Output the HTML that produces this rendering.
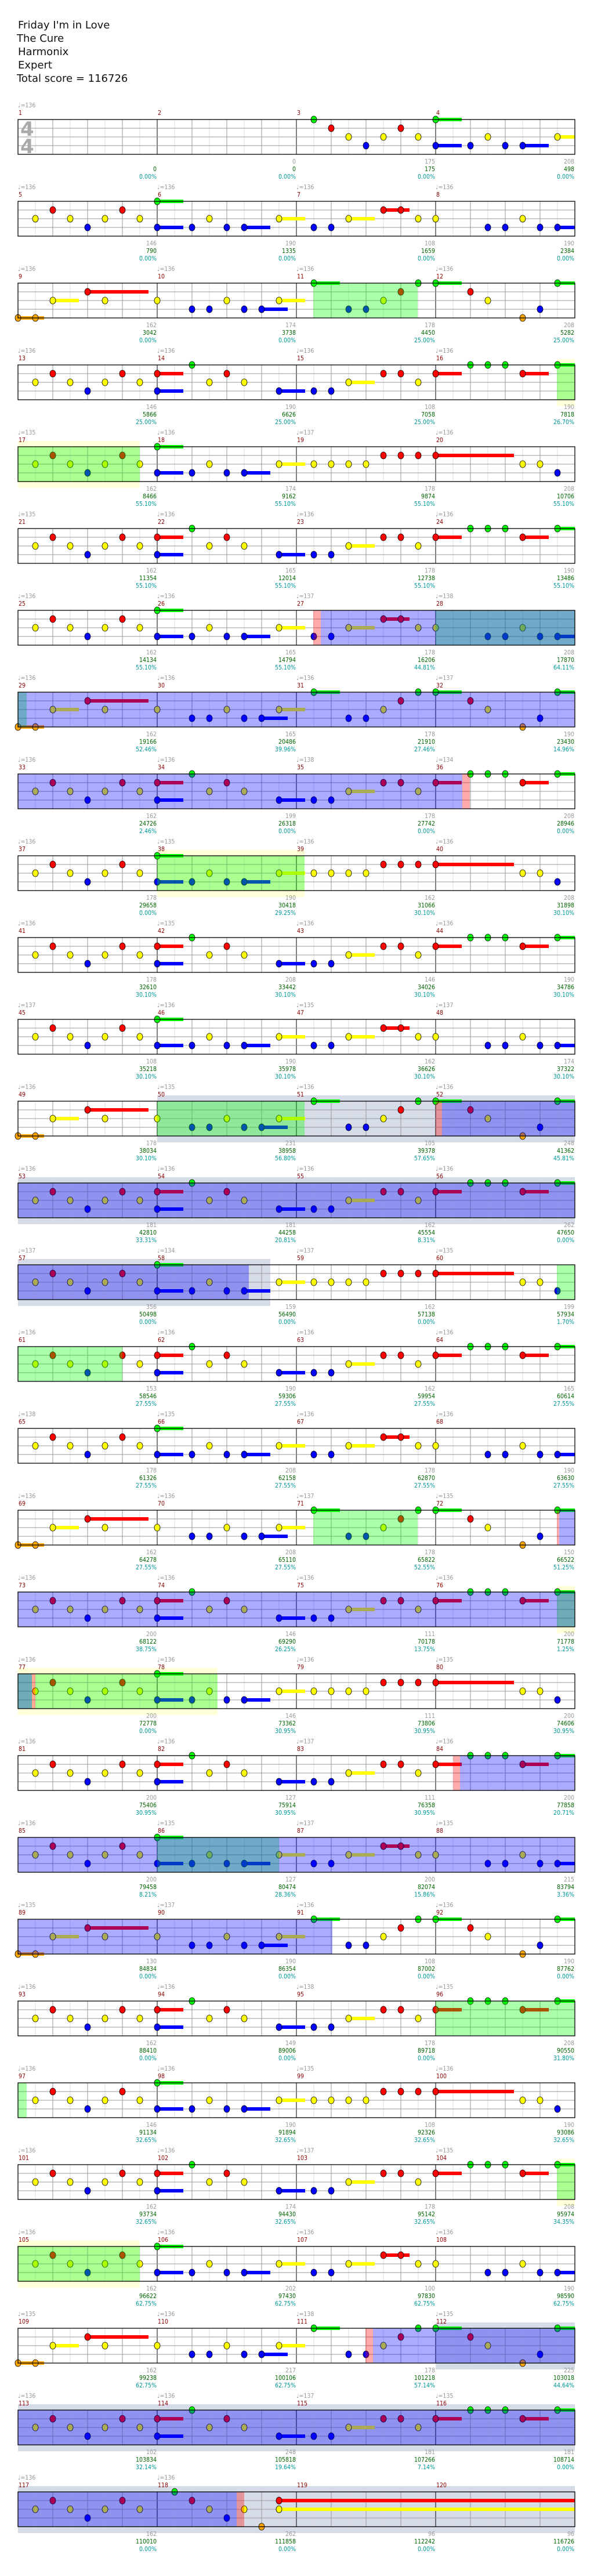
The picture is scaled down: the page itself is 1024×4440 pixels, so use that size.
<!DOCTYPE html>
<html><head><meta charset="utf-8">
<style>
html,body{margin:0;padding:0;background:#fff;}
body{width:1024px;height:4435px;overflow:hidden;}
</style></head>
<body>
<svg id="s" xmlns="http://www.w3.org/2000/svg" width="1024" height="4435" viewBox="0 0 1024 4435" font-family="'DejaVu Sans Condensed','DejaVu Sans',sans-serif">
<g style="font-family:'DejaVu Sans','Liberation Sans',sans-serif" font-size="18" fill="#111">
<text x="31" y="49">Friday I'm in Love</text>
<text x="29" y="72">The Cure</text>
<text x="31" y="95">Harmonix</text>
<text x="31" y="118">Expert</text>
<text x="29" y="141">Total score = 116726</text>
</g>
</svg>
<script>
(function(){
var svg=document.getElementById('s');
var out=[];
var X0=31,MW=240,TOP=206,PITCH=141;
var col={g:'#00ff00',r:'#ff0000',y:'#ffff00',b:'#0000ff',o:'#ffa500'};
var lane={g:0,r:1,y:2,b:3,o:4};
var data={
1:['','0','0.00%'],2:['0','0','0.00%'],3:['175','175','0.00%'],4:['208','498','0.00%'],
5:['146','790','0.00%'],6:['190','1335','0.00%'],7:['108','1659','0.00%'],8:['190','2384','0.00%'],
9:['162','3042','0.00%'],10:['174','3738','0.00%'],11:['178','4450','25.00%'],12:['208','5282','25.00%'],
13:['146','5866','25.00%'],14:['190','6626','25.00%'],15:['108','7058','25.00%'],16:['190','7818','26.70%'],
17:['162','8466','55.10%'],18:['174','9162','55.10%'],19:['178','9874','55.10%'],20:['208','10706','55.10%'],
21:['162','11354','55.10%'],22:['165','12014','55.10%'],23:['178','12738','55.10%'],24:['190','13486','55.10%'],
25:['162','14134','55.10%'],26:['165','14794','55.10%'],27:['178','16206','44.81%'],28:['208','17870','64.11%'],
29:['162','19166','52.46%'],30:['165','20486','39.96%'],31:['178','21910','27.46%'],32:['190','23430','14.96%'],
33:['162','24726','2.46%'],34:['199','26318','0.00%'],35:['178','27742','0.00%'],36:['208','28946','0.00%'],
37:['178','29658','0.00%'],38:['190','30418','29.25%'],39:['162','31066','30.10%'],40:['208','31898','30.10%'],
41:['178','32610','30.10%'],42:['208','33442','30.10%'],43:['146','34026','30.10%'],44:['190','34786','30.10%'],
45:['108','35218','30.10%'],46:['190','35978','30.10%'],47:['162','36626','30.10%'],48:['174','37322','30.10%'],
49:['178','38034','30.10%'],50:['231','38958','56.80%'],51:['105','39378','57.65%'],52:['248','41362','45.81%'],
53:['181','42810','33.31%'],54:['181','44258','20.81%'],55:['162','45554','8.31%'],56:['262','47650','0.00%'],
57:['356','50498','0.00%'],58:['159','56490','0.00%'],59:['162','57138','0.00%'],60:['199','57934','1.70%'],
61:['153','58546','27.55%'],62:['190','59306','27.55%'],63:['162','59954','27.55%'],64:['165','60614','27.55%'],
65:['178','61326','27.55%'],66:['208','62158','27.55%'],67:['178','62870','27.55%'],68:['190','63630','27.55%'],
69:['162','64278','27.55%'],70:['208','65110','27.55%'],71:['178','65822','52.55%'],72:['150','66522','51.25%'],
73:['200','68122','38.75%'],74:['146','69290','26.25%'],75:['111','70178','13.75%'],76:['200','71778','1.25%'],
77:['200','72778','0.00%'],78:['146','73362','30.95%'],79:['111','73806','30.95%'],80:['200','74606','30.95%'],
81:['200','75406','30.95%'],82:['127','75914','30.95%'],83:['111','76358','30.95%'],84:['200','77858','20.71%'],
85:['200','79458','8.21%'],86:['127','80474','28.36%'],87:['200','82074','15.86%'],88:['215','83794','3.36%'],
89:['130','84834','0.00%'],90:['190','86354','0.00%'],91:['108','87002','0.00%'],92:['190','87762','0.00%'],
93:['162','88410','0.00%'],94:['149','89006','0.00%'],95:['178','89718','0.00%'],96:['208','90550','31.80%'],
97:['146','91134','32.65%'],98:['190','91894','32.65%'],99:['108','92326','32.65%'],100:['190','93086','32.65%'],
101:['162','93734','32.65%'],102:['174','94430','32.65%'],103:['178','95142','32.65%'],104:['208','95974','34.35%'],
105:['162','96622','62.75%'],106:['202','97430','62.75%'],107:['100','97830','62.75%'],108:['190','98590','62.75%'],
109:['162','99238','62.75%'],110:['217','100106','62.75%'],111:['178','101218','57.14%'],112:['225','103018','44.64%'],
113:['102','103834','32.14%'],114:['248','105818','19.64%'],115:['181','107266','7.14%'],116:['181','108714','0.00%'],
117:['162','110010','0.00%'],118:['262','111858','0.00%'],119:['96','112242','0.00%'],120:['96','116726','0.00%']
};
var tempos={2:135,17:135,19:137,21:135,27:137,28:138,31:136,32:137,34:136,35:138,36:134,38:135,41:136,42:135,45:137,47:135,48:137,50:135,57:137,58:134,59:137,60:135,65:138,66:135,71:137,72:135,80:135,83:137,86:135,87:137,88:135,89:135,90:137,95:138,96:135,99:135,103:137,104:135,109:135,111:138,112:135,115:137,116:135};
var pats=[
"30b 60b 90y45 150r 180r 210y",
"0r45 60g 90g 120g 150r45 210g45",
"30y 60r 90y 120b 150y 180r 210y",
"0g45 0b45 60b 90y 120b 150b45 210y45",
"30b 60b 90y45 150r45 180r 210y",
"0y 90b 120b 150y 180b 210b45",
"0o45 30o 60y45 120r105 150y",
"0y 60b 90b 120y 150b 180b45 210y45",
"30g45 90b 120b 150y 180r 210g",
"0g45 60r 90y 150o 180b 210g45",
"30y 60r 90y 120b 150y 180r 210y",
"0r45 0b45 60g 90y 120r 150y 210b45",
"30y 60y 90y 120y 150r 180r 210r",
"0r135 150y 180y 210b"
];
var order=[0,1,2,3,4,5,6,7,8,9,10,11,0,1,2,3,12,13,10,11];
var special={3:"30g 60r 90y 120b 150y 180r 210y",4:"0g45 0b45 60b 90y 120b 150b45 210y45"};
var hl={
2:[['G',540,720]],
3:[['Y',960,991],['G',960,991]],
4:[['Y',31,241],['G',31,241]],
6:[['P',540,553],['B',553,751],['T',751,991]],
7:[['T',31,46],['B',46,991]],
8:[['B',31,797],['P',797,810]],
9:[['Y',271,525],['G',271,525]],
12:[['S',271,991],['G',271,525],['P',751,762],['B',762,991]],
13:[['S',31,991],['B',31,991]],
14:[['S',31,466],['B',31,429],['G',960,991]],
15:[['G',31,211]],
17:[['G',540,720],['P',960,964],['B',964,991]],
18:[['B',31,960],['Y',960,991],['T',960,991]],
19:[['Y',31,375],['T',31,55],['P',55,61],['G',61,375]],
20:[['P',781,793],['B',793,991]],
21:[['B',31,271],['T',271,481],['B',481,991]],
22:[['B',31,573]],
23:[['G',751,991]],
24:[['G',31,46]],
25:[['Y',960,991],['G',960,991]],
26:[['Y',31,241],['G',31,241]],
27:[['S',751,991],['P',630,643],['B',643,991]],
28:[['S',31,991],['B',31,991]],
29:[['S',31,991],['B',31,408],['P',408,421]]
};
var ov={B:'rgba(0,0,255,0.33)',G:'rgba(0,255,0,0.33)',T:'rgba(0,103,157,0.56)',P:'rgba(255,0,0,0.33)'};
for(var r=0;r<30;r++){
  var t=TOP+PITCH*r;
  var h=hl[r]||[];
  h.forEach(function(e){
    if(e[0]=='S') out.push('<rect x="'+e[1]+'" y="'+(t-10)+'" width="'+(e[2]-e[1])+'" height="81" fill="#d5dce8"/>');
    if(e[0]=='Y') out.push('<rect x="'+e[1]+'" y="'+(t-10)+'" width="'+(e[2]-e[1])+'" height="81" fill="#ffffd8"/>');
  });
  for(var k=1;k<32;k++){
    var x=X0+k*30;
    var c=(k%8==0)?'#000':(k%2==0?'#999':'#ddd');
    out.push('<line x1="'+x+'" y1="'+t+'" x2="'+x+'" y2="'+(t+60)+'" stroke="'+c+'" stroke-width="1"/>');
  }
  for(var l=1;l<4;l++){
    out.push('<line x1="31" y1="'+(t+l*15)+'" x2="991" y2="'+(t+l*15)+'" stroke="#999" stroke-width="1"/>');
  }
  for(var mi=0;mi<4;mi++){
    var m=r*4+mi+1, mx=X0+mi*MW;
    var p=null;
    if(m>4 && m<119) p=pats[order[(m-3)%order.length]];
    if(special[m]) p=special[m];
    if(m==118) p="30g 60r 90y 120b 150y 180o 210r 210y";
    if(p){
      var items=p.split(' ');
      var sus=[],nts=[];
      items.forEach(function(it){
        var mm=it.match(/^(\d+)([a-z])(\d*)$/); if(!mm)return;
        var x=mx+parseInt(mm[1]), ln=lane[mm[2]], y=t+ln*15;
        if(mm[3]) sus.push('<rect x="'+x+'" y="'+(y-3)+'" width="'+Math.min(parseInt(mm[3]),991-x)+'" height="6" fill="'+col[mm[2]]+'"/>');
        nts.push('<ellipse cx="'+x+'" cy="'+y+'" rx="5" ry="6" fill="'+col[mm[2]]+'" stroke="#000" stroke-width="0.8"/>');
      });
      out.push(sus.join(''));out.push(nts.join(''));
    }
    if(m==118){
      out.push('<rect x="481" y="'+(t+12)+'" width="510" height="6" fill="#ff0000"/>');
      out.push('<rect x="481" y="'+(t+27)+'" width="510" height="6" fill="#ffff00"/>');
      out.push('<ellipse cx="481" cy="'+(t+15)+'" rx="5" ry="6" fill="#f00" stroke="#000" stroke-width="0.8"/>');
      out.push('<ellipse cx="481" cy="'+(t+30)+'" rx="5" ry="6" fill="#ff0" stroke="#000" stroke-width="0.8"/>');
    }
    var d=data[m]||['','',''];
    var ex=mx+MW-1;
    out.push('<text x="'+ex+'" y="'+(t+76)+'" font-size="10.5" fill="#999" text-anchor="end">'+d[0]+'</text>');
    out.push('<text x="'+ex+'" y="'+(t+89)+'" font-size="10.5" fill="#006400" text-anchor="end">'+d[1]+'</text>');
    out.push('<text x="'+ex+'" y="'+(t+102)+'" font-size="10.5" fill="#009999" text-anchor="end">'+d[2]+'</text>');
    out.push('<text x="'+(mx+1)+'" y="'+(t-8)+'" font-size="10.5" fill="#8b0000">'+m+'</text>');
    if(!(m==2||m==3||m==4||m>=119)){
      var tp=tempos[m]||136;
      out.push('<text x="'+(mx+0)+'" y="'+(t-21)+'" font-size="10.5" fill="#999">&#9833;='+tp+'</text>');
    }
  }
  h.forEach(function(e){
    if(ov[e[0]]) out.push('<rect x="'+e[1]+'" y="'+t+'" width="'+(e[2]-e[1])+'" height="60" fill="'+ov[e[0]]+'"/>');
  });
  out.push('<rect x="31" y="'+t+'" width="960" height="60" fill="none" stroke="#000" stroke-width="1.3"/>');
  if(r==0){
    out.push('<text x="35" y="234" font-size="34" font-weight="bold" fill="#aaa" style="font-family:\'DejaVu Sans\',sans-serif">4</text>');
    out.push('<text x="35" y="264" font-size="34" font-weight="bold" fill="#aaa" style="font-family:\'DejaVu Sans\',sans-serif">4</text>');
  }
}
svg.insertAdjacentHTML('beforeend',out.join(''));
})();
</script>
</body></html>
